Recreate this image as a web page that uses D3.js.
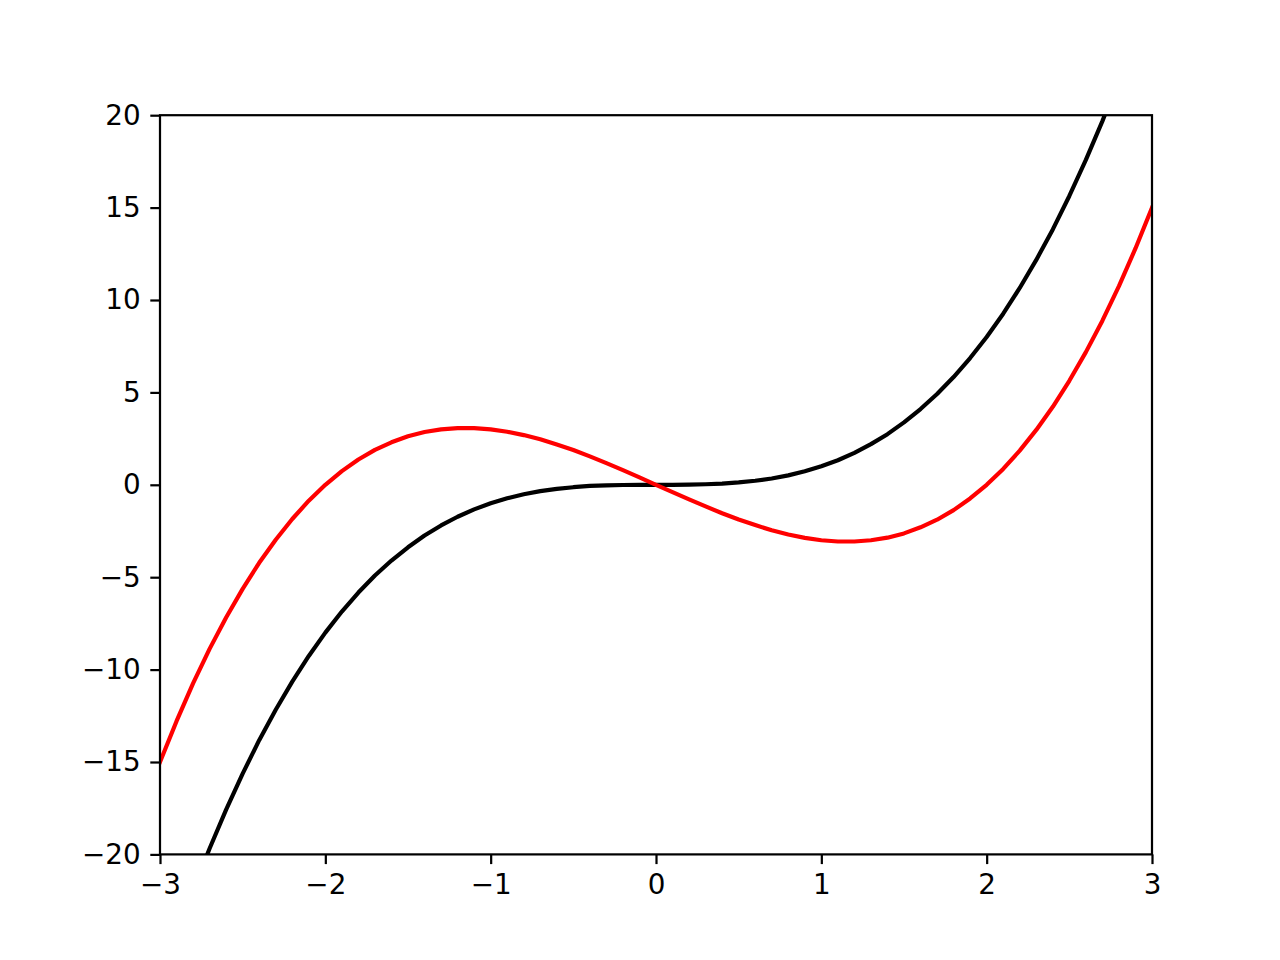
<!DOCTYPE html>
<html>
<head>
<meta charset="utf-8">
<script src="https://cdn.jsdelivr.net/npm/d3@7"></script>
<style>
  html, body { margin: 0; padding: 0; background: #fff; }
  svg { display: block; }
  .tick text { font-family: "DejaVu Sans", sans-serif; }
</style>
</head>
<body>
<svg id="chart" width="1280" height="960"></svg>
<script>
// Data
const xs = [-3.0,-2.9,-2.8,-2.7,-2.6,-2.5,-2.4,-2.3,-2.2,-2.1,-2.0,-1.9,-1.8,-1.7,-1.6,-1.5,-1.4,-1.3,-1.2,-1.1,-1.0,-0.9,-0.8,-0.7,-0.6,-0.5,-0.4,-0.3,-0.2,-0.1,0.0,0.1,0.2,0.3,0.4,0.5,0.6,0.7,0.8,0.9,1.0,1.1,1.2,1.3,1.4,1.5,1.6,1.7,1.8,1.9,2.0,2.1,2.2,2.3,2.4,2.5,2.6,2.7,2.8,2.9,3.0];
const blackSeries = [-27.0,-24.39,-21.95,-19.68,-17.58,-15.63,-13.82,-12.17,-10.65,-9.26,-8.0,-6.86,-5.83,-4.91,-4.10,-3.38,-2.74,-2.20,-1.73,-1.33,-1.0,-0.73,-0.51,-0.34,-0.22,-0.13,-0.06,-0.03,-0.01,0.0,0.0,0.0,0.01,0.03,0.06,0.13,0.22,0.34,0.51,0.73,1.0,1.33,1.73,2.20,2.74,3.38,4.10,4.91,5.83,6.86,8.0,9.26,10.65,12.17,13.82,15.63,17.58,19.68,21.95,24.39,27.0];
const redSeries = [-15.0,-12.79,-10.75,-8.88,-7.18,-5.63,-4.22,-2.97,-1.85,-0.86,0.0,0.74,1.37,1.89,2.30,2.63,2.86,3.00,3.07,3.07,3.0,2.87,2.69,2.46,2.18,1.88,1.54,1.17,0.79,0.40,0.0,-0.40,-0.79,-1.17,-1.54,-1.88,-2.18,-2.46,-2.69,-2.87,-3.0,-3.07,-3.07,-3.00,-2.86,-2.63,-2.30,-1.89,-1.37,-0.74,0.0,0.86,1.85,2.97,4.22,5.63,7.18,8.88,10.75,12.79,15.0];
const xTicks = [-3,-2,-1,0,1,2,3];
const yTicks = [-20,-15,-10,-5,0,5,10,15,20];

const svg = d3.select("#chart");
const mLeft = 160, mRight = 1152, mTop = 115.2, mBottom = 854.4;

const x = d3.scaleLinear().domain([-3, 3]).range([mLeft, mRight]);
const y = d3.scaleLinear().domain([-20, 20]).range([mBottom, mTop]);

svg.append("defs").append("clipPath").attr("id", "clip")
  .append("rect").attr("x", mLeft).attr("y", mTop)
  .attr("width", mRight - mLeft).attr("height", mBottom - mTop);

const line = d3.line().x((d, i) => x(xs[i])).y(d => y(d));

const g = svg.append("g").attr("clip-path", "url(#clip)");
g.append("path").datum(blackSeries).attr("d", line)
  .attr("fill", "none").attr("stroke", "#000").attr("stroke-width", 4.17)
  .attr("stroke-linejoin", "round").attr("stroke-linecap", "square");
g.append("path").datum(redSeries).attr("d", line)
  .attr("fill", "none").attr("stroke", "#ff0000").attr("stroke-width", 4.17)
  .attr("stroke-linejoin", "round").attr("stroke-linecap", "square");

const fmt = d3.format("d");
const xAxis = d3.axisBottom(x).tickValues(xTicks).tickFormat(fmt).tickSize(9.7).tickPadding(9.7);
const yAxis = d3.axisLeft(y).tickValues(yTicks).tickFormat(fmt).tickSize(9.7).tickPadding(9.7);

const gx = svg.append("g").attr("transform", `translate(0,${mBottom})`).call(xAxis);
const gy = svg.append("g").attr("transform", `translate(${mLeft},0)`).call(yAxis);
[gx, gy].forEach(ax => {
  ax.select(".domain").remove();
  ax.selectAll(".tick line").attr("stroke", "#000").attr("stroke-width", 2.22);
  ax.selectAll(".tick text").attr("fill", "#000").style("font-size", "27.8px");
});

svg.append("rect").attr("x", mLeft).attr("y", mTop)
  .attr("width", mRight - mLeft).attr("height", mBottom - mTop)
  .attr("fill", "none").attr("stroke", "#000").attr("stroke-width", 2.22)
  .attr("stroke-linejoin", "miter");
</script>
</body>
</html>
